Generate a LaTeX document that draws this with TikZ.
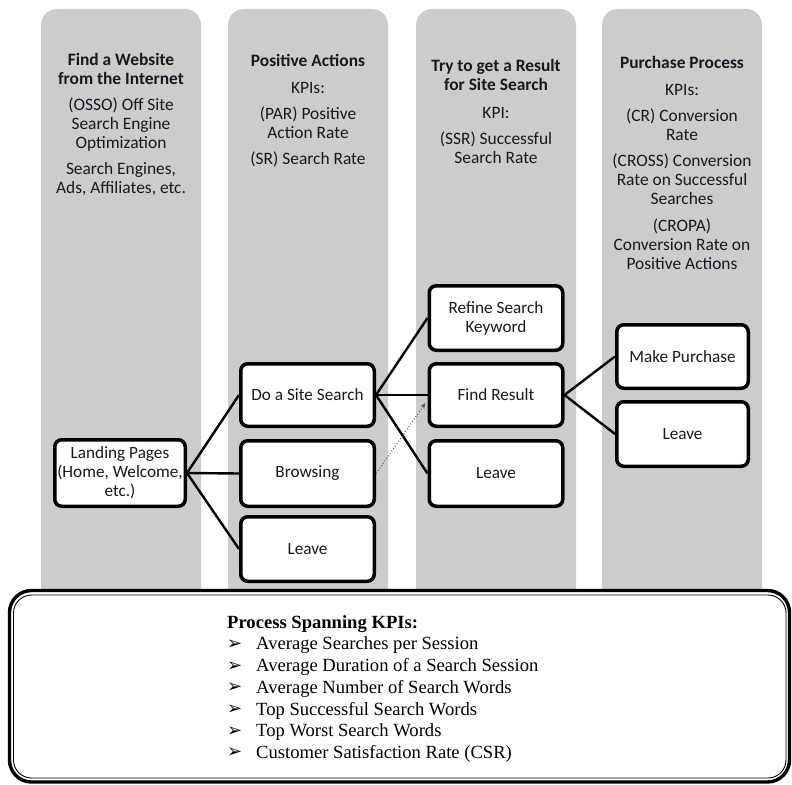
\documentclass[tikz,border=0pt]{standalone}
\usepackage{fontspec}
\setmainfont{Carlito}
\newfontfamily\kpiserif{Liberation Serif}
\newfontfamily\bulfont{DejaVu Sans}
\usetikzlibrary{arrows.meta}
\definecolor{colgray}{RGB}{204,204,204}
\definecolor{txt}{RGB}{24,24,34}
\newcommand\kb{\makebox[29pt][l]{\raisebox{0.5pt}{\bulfont\fontsize{18}{21.7}\selectfont ➢}}}
\begin{document}
\begin{tikzpicture}[x=1pt,y=-1pt,
  colbox/.style={fill=colgray, rounded corners=16pt},
  stepbox/.style={draw=black, line width=3.5pt, fill=white, rounded corners=7pt,
    inner sep=0pt, minimum width=133.5pt, minimum height=64.5pt, align=center,
    text=txt, font=\fontsize{17.2}{19}\selectfont},
  link/.style={line width=2.4pt},
  coltext/.style={anchor=north, inner sep=0pt, align=center, text=txt,
    font=\fontsize{17.4}{19}\selectfont}]
\useasboundingbox (0,0) rectangle (792,784);
\fill[white] (0,0) rectangle (792,784);
% columns
\fill[colbox] (41,9) rectangle (201,620);
\fill[colbox] (228,9) rectangle (388,620);
\fill[colbox] (416,9) rectangle (576,620);
\fill[colbox] (602,9) rectangle (762,620);
% column texts
\node[coltext] (c1) at (121,52) {\rule{0pt}{13pt}\textbf{Find a Website}\\ \textbf{from the Internet}\\[7pt]
  (OSSO) Off Site\\ Search Engine\\ Optimization\\[7pt] Search Engines,\\ Ads, Affiliates, etc.};
\node[coltext] (c2) at (308,53) {\rule{0pt}{13pt}\textbf{Positive Actions}\\[8pt] KPIs:\\[7pt]
  (PAR) Positive\\ Action Rate\\[7pt] (SR) Search Rate};
\node[coltext] (c3) at (496,58) {\rule{0pt}{13pt}\textbf{Try to get a Result}\\ \textbf{for Site Search}\\[9pt] KPI:\\[7pt]
  (SSR) Successful\\ Search Rate};
\node[coltext] (c4) at (682,55) {\rule{0pt}{13pt}\textbf{Purchase Process}\\[8pt] KPIs:\\[7pt]
  (CR) Conversion\\ Rate\\[7pt] (CROSS) Conversion\\ Rate on Successful\\ Searches\\[8pt]
  (CROPA)\\ Conversion Rate on\\ Positive Actions};
% nodes
\node[stepbox, minimum width=130.5pt, minimum height=66.5pt] (land) at (120,473) {Landing Pages\\(Home, Welcome,\\etc.)};
\node[stepbox, minimum height=62.5pt] (search) at (307.5,395) {Do a Site Search};
\node[stepbox, minimum height=65.5pt] (browse) at (307.5,473.5) {Browsing};
\node[stepbox] (leaveA) at (307.5,549) {Leave};
\node[stepbox] (refine) at (496,318) {Refine Search\\Keyword};
\node[stepbox, minimum height=62.5pt] (find) at (496,395) {Find Result};
\node[stepbox, minimum height=65.5pt] (leaveB) at (496,473.5) {Leave};
\node[stepbox, minimum width=131.5pt, minimum height=63.5pt] (buy) at (682.5,356.5) {Make Purchase};
\node[stepbox, minimum width=131.5pt] (leaveC) at (682.5,434) {Leave};
% connectors
\draw[link] (land.east) -- (search.west);
\draw[link] (land.east) -- (browse.west);
\draw[link] (land.east) -- (leaveA.west);
\draw[link] (search.east) -- (refine.west);
\draw[link] (search.east) -- (find.west);
\draw[link] (search.east) -- (leaveB.west);
\draw[link] (find.east) -- (buy.west);
\draw[link] (find.east) -- (leaveC.west);
\draw[dotted, line width=1pt, draw=black!65, -{Stealth[length=6pt,width=5pt]}] (browse.east) -- ([xshift=-2pt,yshift=-8pt]find.west);
% bottom box
\draw[line width=3.4pt, fill=white, rounded corners=22pt] (9.5,590.5) rectangle (789.5,782);
\draw[line width=0.9pt, rounded corners=18pt] (13.5,595) rectangle (786,778);
\node[anchor=north west, inner sep=0pt, align=left, font=\kpiserif\fontsize{18.6}{21.7}\selectfont] (kpis) at (227,615)
  {\rule{0pt}{13pt}\textbf{Process Spanning KPIs:}\\
   \kb Average Searches per Session\\
   \kb Average Duration of a Search Session\\
   \kb Average Number of Search Words\\
   \kb Top Successful Search Words\\
   \kb Top Worst Search Words\\
   \kb Customer Satisfaction Rate (CSR)};
\end{tikzpicture}
\end{document}
